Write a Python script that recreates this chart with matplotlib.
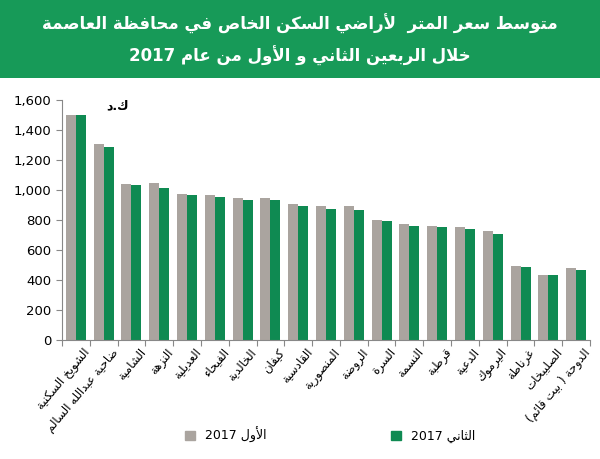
import matplotlib
matplotlib.use("Agg")
import matplotlib.pyplot as plt
import numpy as np
from matplotlib.patches import Patch, Rectangle

# ---- minimal Arabic shaper (presentation forms + RTL order) ----
_F = {}
def _add(ch, base, n):
    _F[ch] = [chr(base + i) for i in range(n)]
for ch, b, n in [('ء',0xFE80,1),('آ',0xFE81,2),('أ',0xFE83,2),('ؤ',0xFE85,2),('إ',0xFE87,2),
                 ('ئ',0xFE89,4),('ا',0xFE8D,2),('ب',0xFE8F,4),('ة',0xFE93,2),('ت',0xFE95,4),
                 ('ث',0xFE99,4),('ج',0xFE9D,4),('ح',0xFEA1,4),('خ',0xFEA5,4),('د',0xFEA9,2),
                 ('ذ',0xFEAB,2),('ر',0xFEAD,2),('ز',0xFEAF,2),('س',0xFEB1,4),('ش',0xFEB5,4),
                 ('ص',0xFEB9,4),('ض',0xFEBD,4),('ط',0xFEC1,4),('ظ',0xFEC5,4),('ع',0xFEC9,4),
                 ('غ',0xFECD,4),('ف',0xFED1,4),('ق',0xFED5,4),('ك',0xFED9,4),('ل',0xFEDD,4),
                 ('م',0xFEE1,4),('ن',0xFEE5,4),('ه',0xFEE9,4),('و',0xFEED,2),('ى',0xFEEF,2),
                 ('ي',0xFEF1,4)]:
    _add(ch, b, n)
_LA = {'آ':(0xFEF5,0xFEF6),'أ':(0xFEF7,0xFEF8),'إ':(0xFEF9,0xFEFA),'ا':(0xFEFB,0xFEFC)}

def ar(text):
    t = list(text)
    units = []
    i = 0
    while i < len(t):
        if t[i] == 'ل' and i + 1 < len(t) and t[i+1] in _LA:
            units.append(('LA', t[i+1])); i += 2
        else:
            units.append(('C', t[i])); i += 1
    def joins_fwd(u):
        if u is None: return False
        if u[0] == 'LA': return False
        return u[1] in _F and len(_F[u[1]]) == 4
    def is_ar(u):
        if u is None: return False
        return u[0] == 'LA' or u[1] in _F
    out = []
    for k, u in enumerate(units):
        prev = units[k-1] if k > 0 else None
        nxt = units[k+1] if k + 1 < len(units) else None
        jp = joins_fwd(prev) and is_ar(u)
        if u[0] == 'LA':
            f = _LA[u[1]]
            out.append(chr(f[1] if jp else f[0])); continue
        ch = u[1]
        if ch not in _F:
            out.append(ch); continue
        forms = _F[ch]
        jn = len(forms) == 4 and is_ar(nxt)
        if len(forms) == 1:
            out.append(forms[0])
        elif len(forms) == 2:
            out.append(forms[1] if jp else forms[0])
        else:
            if jp and jn: out.append(forms[3])
            elif jp: out.append(forms[1])
            elif jn: out.append(forms[2])
            else: out.append(forms[0])
    s = ''.join(out)
    rev = s[::-1]
    res, buf = [], ''
    for c in rev:
        if c.isdigit() or (buf and c in ',.'):
            buf += c
        else:
            if buf: res.append(buf[::-1]); buf = ''
            res.append({'(':')', ')':'('}.get(c, c))
    if buf: res.append(buf[::-1])
    return ''.join(res)

# ---- data ----
categories = ['الشويخ السكنية', 'ضاحية عبدالله السالم', 'الشامية', 'النزهة', 'العديلية',
              'الفيحاء', 'الخالدية', 'كيفان', 'القادسية', 'المنصورية', 'الروضة', 'السرة',
              'النسمة', 'قرطبة', 'الدعية', 'اليرموك', 'غرناطة', 'الصليبخات', 'الدوحة ( بيت قائم)']
q1_2017 = [1500, 1305, 1040, 1045, 975, 968, 948, 948, 905, 890, 890, 800, 770, 757, 750, 728, 495, 432, 480]
q2_2017 = [1500, 1285, 1035, 1015, 968, 955, 932, 932, 890, 875, 868, 790, 762, 750, 742, 708, 490, 432, 468]
yticks = [0, 200, 400, 600, 800, 1000, 1200, 1400, 1600]

GRAY = '#aaa49f'
GREEN = '#0f8a52'
HEADER = '#179a58'

plt.rcParams['font.family'] = ['DejaVu Sans']
fig = plt.figure(figsize=(6.0, 4.59), dpi=100)
fig.patch.set_facecolor('white')

fig.patches.append(Rectangle((0, 1 - 78/459), 1, 78/459, transform=fig.transFigure,
                             facecolor=HEADER, edgecolor='none', zorder=0))
fig.text(0.5, 1 - 24/459, ar('متوسط سعر المتر  لأراضي السكن الخاص في محافظة العاصمة'),
         ha='center', va='center', color='white', fontsize=12, fontweight='bold')
fig.text(0.5, 1 - 56/459, ar('خلال الربعين الثاني و الأول من عام 2017'),
         ha='center', va='center', color='white', fontsize=12, fontweight='bold')

ax = fig.add_axes([62/600, 1 - 340/459, 528/600, 240/459])
x = np.arange(len(categories))
w = 0.36
ax.bar(x - w/2, q1_2017, w, color=GRAY)
ax.bar(x + w/2, q2_2017, w, color=GREEN)
ax.set_xlim(-0.5, len(categories) - 0.5)
ax.set_ylim(0, 1600)
ax.set_yticks(yticks)
ax.set_yticklabels([f'{v:,}' for v in yticks], fontsize=9.5)
ax.set_xticks(np.arange(len(categories) + 1) - 0.5, minor=False)
ax.set_xticklabels([])
ax.tick_params(axis='x', length=4, color='#888888')
ax.tick_params(axis='y', length=4, color='#888888')
for s in ['top', 'right']:
    ax.spines[s].set_visible(False)
ax.spines['left'].set_color('#888888')
ax.spines['bottom'].set_color('#888888')
for i, c in enumerate(categories):
    ax.text(i + 0.25, -40, ar(c), rotation=50, ha='right', va='top', fontsize=8.5,
            rotation_mode='anchor')
ax.text(1.5, 1560, ar('ك.د'), fontsize=9, fontweight='bold', ha='center', va='center')

handles = [Patch(color=GRAY), Patch(color=GREEN)]
labels = ['2017 ' + ar('الأول'), '2017 ' + ar('الثاني')]
fig.legend(handles, labels, loc='center', bbox_to_anchor=(0.55, 1 - 435/459), ncol=2,
           frameon=False, fontsize=9, columnspacing=10, handlelength=0.8, handleheight=0.8)

fig.savefig('out.png', dpi=100)
